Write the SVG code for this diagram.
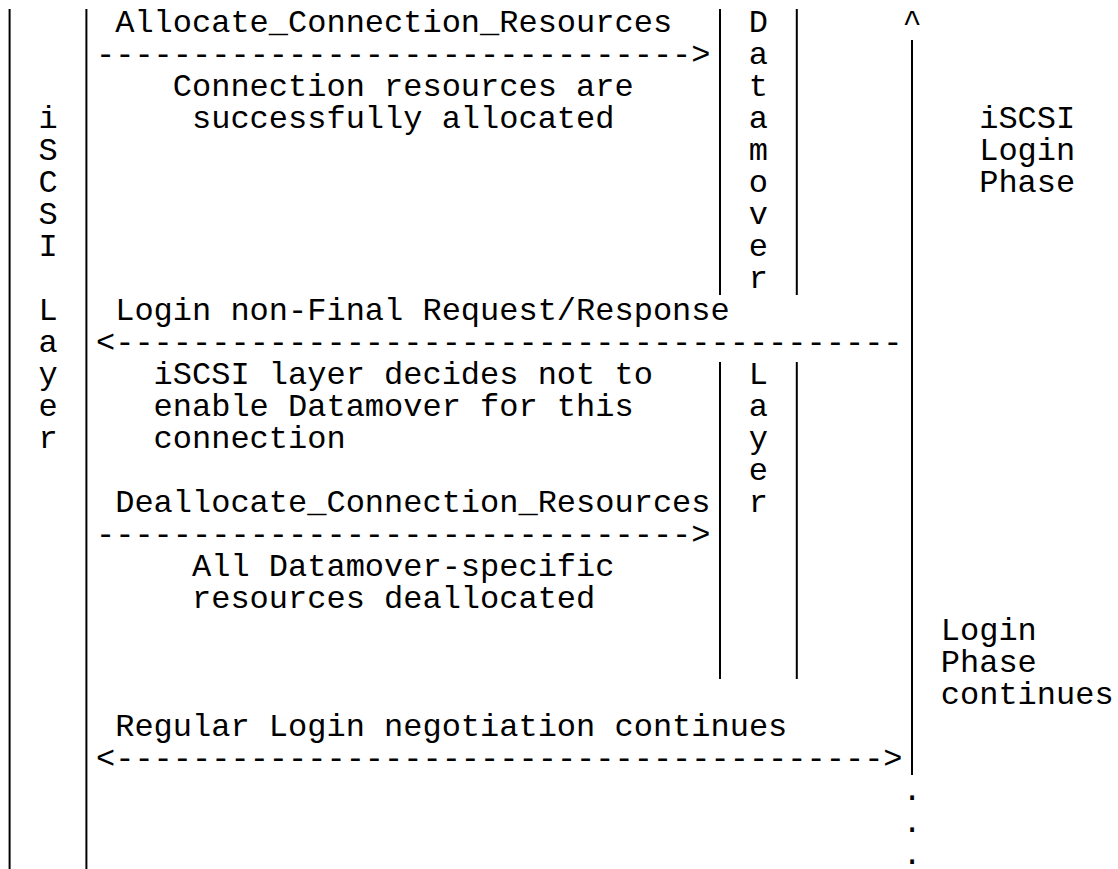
<svg xmlns="http://www.w3.org/2000/svg" width="1118" height="869" viewBox="0 0 1118 869">
<style>
.t{font-family:"Liberation Mono","Courier New",monospace;font-size:32px;fill:#000;white-space:pre}
.bar{stroke:#000;stroke-width:2;fill:none}
</style>
<rect x="0" y="0" width="1118" height="869" fill="#fff"/>
<g id="iscsi-layer">
<line class="bar" x1="9.6" y1="9" x2="9.6" y2="869"/>
<line class="bar" x1="86.4" y1="9" x2="86.4" y2="869"/>
<text class="t"><tspan x="38.4" y="128">i</tspan><tspan x="38.4" y="160">S</tspan><tspan x="38.4" y="192">C</tspan><tspan x="38.4" y="224">S</tspan><tspan x="38.4" y="256">I</tspan><tspan x="38.4" y="320">L</tspan><tspan x="38.4" y="352">a</tspan><tspan x="38.4" y="384">y</tspan><tspan x="38.4" y="416">e</tspan><tspan x="38.4" y="448">r</tspan></text>
</g>
<g id="datamover-layer">
<line class="bar" x1="720" y1="9" x2="720" y2="295"/>
<line class="bar" x1="796.8" y1="9" x2="796.8" y2="295"/>
<line class="bar" x1="720" y1="362" x2="720" y2="679"/>
<line class="bar" x1="796.8" y1="362" x2="796.8" y2="679"/>
<text class="t"><tspan x="748.8" y="32">D</tspan><tspan x="748.8" y="64">a</tspan><tspan x="748.8" y="96">t</tspan><tspan x="748.8" y="128">a</tspan><tspan x="748.8" y="160">m</tspan><tspan x="748.8" y="192">o</tspan><tspan x="748.8" y="224">v</tspan><tspan x="748.8" y="256">e</tspan><tspan x="748.8" y="288">r</tspan><tspan x="748.8" y="384">L</tspan><tspan x="748.8" y="416">a</tspan><tspan x="748.8" y="448">y</tspan><tspan x="748.8" y="480">e</tspan><tspan x="748.8" y="512">r</tspan></text>
</g>
<g id="login-phase">
<line class="bar" x1="912" y1="40" x2="912" y2="775"/>
<text class="t"><tspan x="902.4" y="32">^</tspan><tspan x="902.4" y="800">.</tspan><tspan x="902.4" y="832">.</tspan><tspan x="902.4" y="864">.</tspan></text>
<text class="t"><tspan x="979.2" y="128">iSCSI</tspan><tspan x="979.2" y="160">Login</tspan><tspan x="979.2" y="192">Phase</tspan></text>
<text class="t"><tspan x="940.8" y="640">Login</tspan><tspan x="940.8" y="672">Phase</tspan><tspan x="940.8" y="704">continues</tspan></text>
</g>
<g id="messages">
<text class="t" x="115.2" y="32">Allocate_Connection_Resources</text>
<text class="t" x="172.8" y="96">Connection resources are</text>
<text class="t" x="192" y="128">successfully allocated</text>
<text class="t" x="115.2" y="320">Login non-Final Request/Response</text>
<text class="t"><tspan x="153.6" y="384">iSCSI layer decides not to</tspan><tspan x="153.6" y="416">enable Datamover for this</tspan><tspan x="153.6" y="448">connection</tspan></text>
<text class="t" x="115.2" y="512">Deallocate_Connection_Resources</text>
<text class="t"><tspan x="192" y="576">All Datamover-specific</tspan><tspan x="192" y="608">resources deallocated</tspan></text>
<text class="t" x="115.2" y="736">Regular Login negotiation continues</text>
</g>
<g id="connectors">
<text class="t" x="96" y="64">-------------------------------&gt;</text>
<text class="t" x="96" y="352">&lt;-----------------------------------------</text>
<text class="t" x="96" y="544">-------------------------------&gt;</text>
<text class="t" x="96" y="768">&lt;----------------------------------------&gt;</text>
</g>
</svg>
